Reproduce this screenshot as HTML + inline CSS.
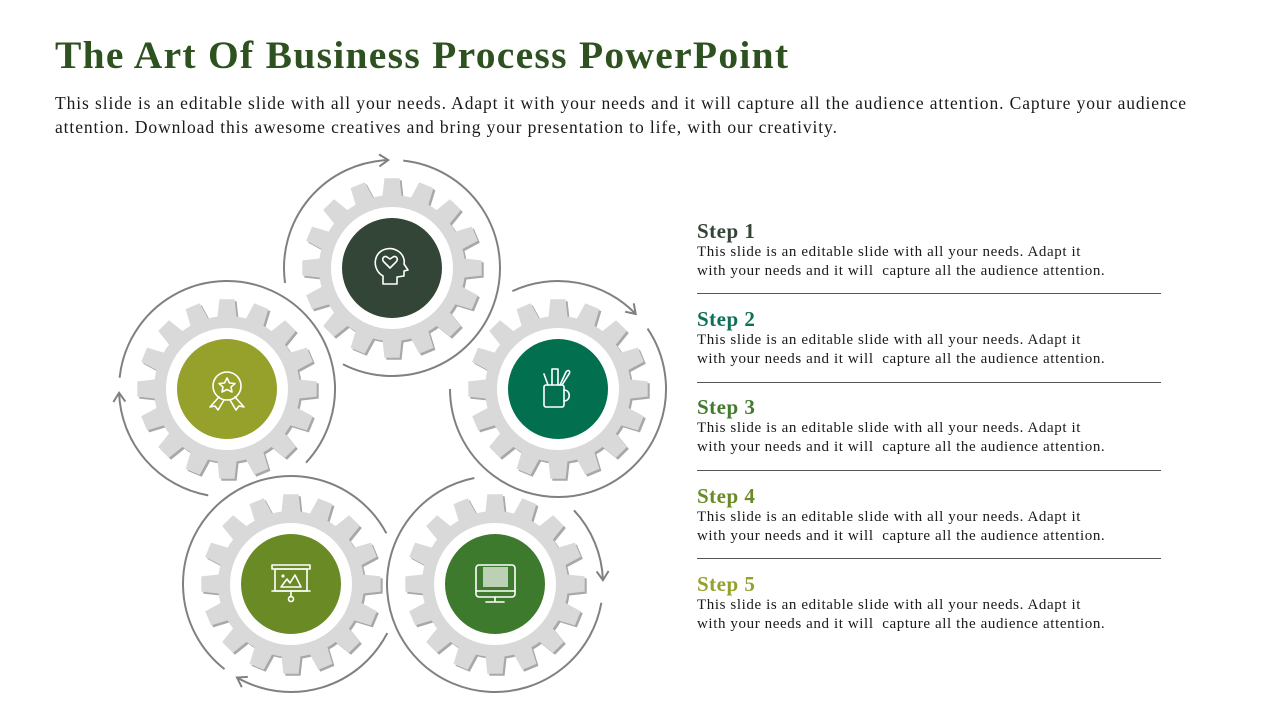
<!DOCTYPE html>
<html><head><meta charset="utf-8">
<style>
html,body{margin:0;padding:0;background:#fff;}
body{width:1280px;height:720px;position:relative;overflow:hidden;font-family:"Liberation Serif",serif;}
h1{position:absolute;left:55px;top:32px;margin:0;font-size:39.5px;font-weight:bold;color:#2d5220;letter-spacing:1.3px;white-space:nowrap;}
.intro{position:absolute;left:55px;top:91px;width:1200px;font-size:17.5px;line-height:24px;color:#1a1a1a;letter-spacing:0.9px;}
.step{position:absolute;left:697px;width:500px;}
.step h2{margin:0;font-size:21px;line-height:24px;font-weight:bold;letter-spacing:0.5px;}
.step p{margin:0;font-size:15px;line-height:19px;color:#1a1a1a;letter-spacing:0.6px;white-space:nowrap;}
.rule{position:absolute;left:697px;width:464px;height:1px;background:#555;}
svg{position:absolute;left:0;top:0;}
</style></head><body>
<h1>The Art Of Business Process PowerPoint</h1>
<div class="intro">This slide is an editable slide with all your needs. Adapt it with your needs and it will capture all the audience attention. Capture your audience attention. Download this awesome creatives and bring your presentation to life, with our creativity.</div>

<div class="step" style="top:219px"><h2 style="color:#334537">Step 1</h2><p>This slide is an editable slide with all your needs. Adapt it<br>with your needs and it will &nbsp;capture all the audience attention.</p></div>
<div class="rule" style="top:293px"></div>
<div class="step" style="top:307px"><h2 style="color:#0e7057">Step 2</h2><p>This slide is an editable slide with all your needs. Adapt it<br>with your needs and it will &nbsp;capture all the audience attention.</p></div>
<div class="rule" style="top:382px"></div>
<div class="step" style="top:395px"><h2 style="color:#437a2d">Step 3</h2><p>This slide is an editable slide with all your needs. Adapt it<br>with your needs and it will &nbsp;capture all the audience attention.</p></div>
<div class="rule" style="top:470px"></div>
<div class="step" style="top:484px"><h2 style="color:#6a8a25">Step 4</h2><p>This slide is an editable slide with all your needs. Adapt it<br>with your needs and it will &nbsp;capture all the audience attention.</p></div>
<div class="rule" style="top:558px"></div>
<div class="step" style="top:572px"><h2 style="color:#95a12a">Step 5</h2><p>This slide is an editable slide with all your needs. Adapt it<br>with your needs and it will &nbsp;capture all the audience attention.</p></div>

<svg id="s" width="1280" height="720" viewBox="0 0 1280 720">
<g id="g"></g>
</svg>
<script>
const NS="http://www.w3.org/2000/svg";
const g=document.getElementById('g');
function el(t,a){const e=document.createElementNS(NS,t);for(const k in a)e.setAttribute(k,a[k]);g.appendChild(e);return e;}
function gear(cx,cy){
 const n=16,R=90,r=73;let d="";
 const step=2*Math.PI/n;
 for(let i=0;i<n;i++){
  const a=i*step - Math.PI/2;
  const hw1=0.085, hw2=0.13;
  const pts=[[r,a-step/2],[r,a-step/2+0.03],[r,a-hw2],[R,a-hw1],[R,a+hw1],[r,a+hw2],[r,a+step/2-0.03]];
  pts.forEach((p,j)=>{const x=cx+p[0]*Math.cos(p[1]),y=cy+p[0]*Math.sin(p[1]);d+=(i==0&&j==0?"M":"L")+x.toFixed(1)+","+y.toFixed(1);});
 }
 d+="Z";
 el('path',{d:d,fill:'#a8a8a8',transform:'translate(2,2)'});
 el('path',{d:d,fill:'#d9d9d9'});
 el('circle',{cx:cx,cy:cy,r:61,fill:'#fff'});
}
function arc(cx,cy,a1,a2,arrow){
 const R=108,rad=x=>x*Math.PI/180;
 const x1=cx+R*Math.cos(rad(a1)),y1=cy+R*Math.sin(rad(a1));
 const x2=cx+R*Math.cos(rad(a2)),y2=cy+R*Math.sin(rad(a2));
 const large=(a2-a1)>180?1:0;
 el('path',{d:`M${x1},${y1} A${R},${R} 0 ${large} 1 ${x2},${y2}`,fill:'none',stroke:'#808080','stroke-width':2});
 if(arrow){
  const t=rad(a2);const tx=-Math.sin(t),ty=Math.cos(t);
  const nx=Math.cos(t),ny=Math.sin(t);
  const L=9,W=6;
  const bx=x2-tx*L,by=y2-ty*L;
  el('path',{d:`M${bx+nx*W},${by+ny*W} L${x2},${y2} L${bx-nx*W},${by-ny*W}`,fill:'none',stroke:'#808080','stroke-width':2});
 }
}
const G=[[392,268,'#334537'],[558,389,'#02704f'],[227,389,'#95a12a'],[291,584,'#6a8a25'],[495,584,'#3e7a2d']];
G.forEach(v=>{gear(v[0],v[1]);el('circle',{cx:v[0],cy:v[1],r:50,fill:v[2]});});
arc(392,268,172,268,true);arc(392,268,276,477,false);
arc(558,389,245,316,true);arc(558,389,326,540,false);
arc(227,389,100,178,true);arc(227,389,186,403,false);
arc(291,584,128,332,false);arc(291,584,27,120,true);
arc(495,584,10,259,false);arc(495,584,317,358,true);
</script>
<svg width="1280" height="720" viewBox="0 0 1280 720" style="pointer-events:none">
<g fill="none" stroke="#fff" stroke-width="1.6" stroke-linejoin="round" stroke-linecap="round">
<path d="M383,284 L383,276 C376,272 374,264 376,258 C379,249 390,246 398,251 C403,254 405,260 404,264 L408,270 L404,271 L404,276 L397,277 L397,284 Z"/>
<path d="M390,268 L384,262 C381,259 384,255 387,257 L390,259 L393,257 C396,255 399,259 396,262 Z"/>
<circle cx="227" cy="386" r="14"/>
<path d="M227,378 L229.5,383 L235,383.5 L231,387 L232,392 L227,389.5 L222,392 L223,387 L219,383.5 L224.5,383 Z"/>
<path d="M219,397 L210,407 L215,406 L218,410 L224,400"/>
<path d="M235,397 L244,407 L239,406 L236,410 L230,400"/>
<rect x="544" y="385" width="20" height="22" rx="2"/>
<path d="M564,390 C571,390 571,401 564,401"/>
<path d="M548,385 L544,374 M552,385 L552,369 L558,369 L558,385 M560,385 L566,372 C568,369 571,371 569,374 L562,385"/>
<rect x="272" y="565" width="38" height="4"/>
<rect x="275" y="569" width="32" height="22"/>
<path d="M272,591 L310,591 M291,591 L291,597"/><circle cx="291" cy="599" r="2.5"/>
<path d="M281,587 L287,579 L290,583 L295,575 L301,587 Z"/><circle cx="283" cy="576" r="0.8"/>
<rect x="476" y="565" width="39" height="32" rx="3"/>
<path d="M476,591 L515,591 M495,597 L495,601 M486,602 L504,602"/>
</g>
<rect x="483" y="567" width="25" height="20" fill="#fff" opacity="0.65"/>
</svg>
</body></html>
